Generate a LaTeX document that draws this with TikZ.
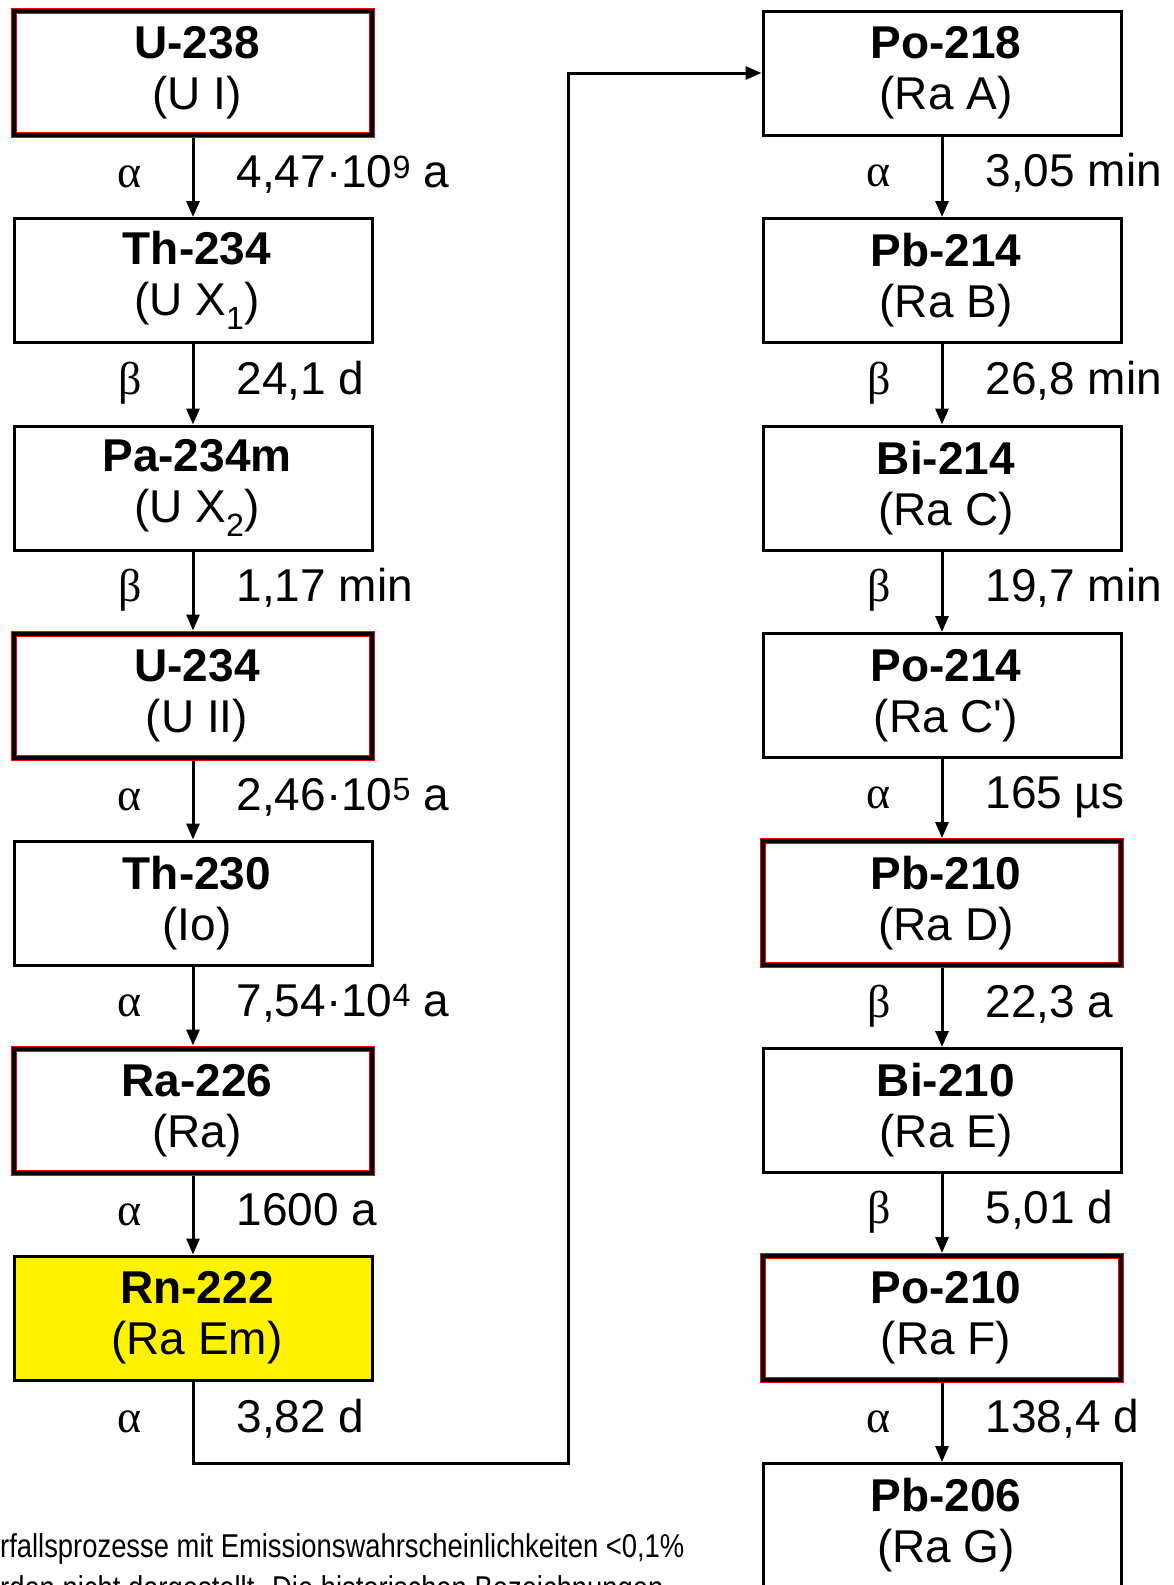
\documentclass[tikz,border=0pt]{standalone}
\usepackage{fontspec}
\setmainfont{Liberation Sans}
\newfontfamily\greekfont{Liberation Serif}
\usetikzlibrary{arrows.meta}

\tikzset{
  nucbox/.style={draw, line width=3pt, minimum width=358pt, minimum height=124pt,
    inner sep=0pt, align=center, font=\fontsize{46}{51}\selectfont},
  keybox/.style={nucbox, draw=red, double=black, line width=1pt,
    double distance=4pt, outer sep=3pt},
  gasbox/.style={nucbox, fill=yellow},
  decay/.style={line width=3pt, -{Triangle[width=13pt,length=16pt]}},
  mode/.style={font=\greekfont\fontsize{46}{46}\selectfont, anchor=base,
    xshift=-63pt, yshift=-10pt, inner sep=0pt},
  halflife/.style={font=\fontsize{46}{46}\selectfont, anchor=base west,
    xshift=42pt, yshift=-10pt, inner sep=0pt}
}

\begin{document}
\begin{tikzpicture}[x=1pt, y=-1pt]
  \useasboundingbox (0,0) rectangle (1174,1585);
  \clip (0,0) rectangle (1174,1585);
  % left column
  \foreach[count=\i from 0] \nm/\ttl/\hist/\sty in {
    u238/U-238/(U I)/keybox, th234/Th-234/(U X\textsubscript{1})/nucbox,
    pa234/Pa-234m/(U X\textsubscript{2})/nucbox, u234/U-234/(U II)/keybox,
    th230/Th-230/(Io)/nucbox, ra226/Ra-226/(Ra)/keybox,
    rn222/Rn-222/(Ra Em)/gasbox}
    \node[\sty] (\nm) at (193,{73+207.5*\i})
      {\hspace*{8pt}\textbf{\ttl}\\\hspace*{8pt}\hist};
  % right column
  \foreach[count=\i from 0] \nm/\ttl/\hist/\sty in {
    po218/Po-218/(Ra A)/nucbox, pb214/Pb-214/(Ra B)/nucbox,
    bi214/Bi-214/(Ra C)/nucbox, po214/Po-214/(Ra C\textquotesingle)/nucbox,
    pb210/Pb-210/(Ra D)/keybox, bi210/Bi-210/(Ra E)/nucbox,
    po210/Po-210/(Ra F)/keybox, pb206/Pb-206/(Ra G)/nucbox}
    \node[\sty] (\nm) at (942,{73+207.5*\i})
      {\hspace*{8pt}\textbf{\ttl}\\\hspace*{8pt}\hist};
  % decays with half-lives
  \foreach \a/\b/\m/\t in {
    u238/th234/α/{4,47·10\textsuperscript{9} a}, th234/pa234/β/{24,1 d},
    pa234/u234/β/{1,17 min}, u234/th230/α/{2,46·10\textsuperscript{5} a},
    th230/ra226/α/{7,54·10\textsuperscript{4} a}, ra226/rn222/α/{1600 a},
    po218/pb214/α/{3,05 min}, pb214/bi214/β/{26,8 min},
    bi214/po214/β/{19,7 min}, po214/pb210/α/{165 µs},
    pb210/bi210/β/{22,3 a}, bi210/po210/β/{5,01 d},
    po210/pb206/α/{138,4 d}}
    \draw[decay] (\a) -- (\b) node[midway, mode] {\m}
      node[midway, halflife] {\t};
  \coordinate (rnfoot) at (193,1463);
  \coordinate (turn) at (568,1463);
  \draw[decay] (rn222) -- (rnfoot) node[midway, mode] {α}
    node[midway, halflife] {3,82 d} -- (turn) |- (po218.west);
  \node[font=\fontsize{33}{42}\selectfont, anchor=north west, inner sep=0pt,
    align=left, xscale=0.83, transform shape] (note) at (0,1533)
    {rfallsprozesse mit Emissionswahrscheinlichkeiten <0,1\%\\
     rden nicht dargestellt. Die historischen Bezeichnungen};
\end{tikzpicture}
\end{document}
